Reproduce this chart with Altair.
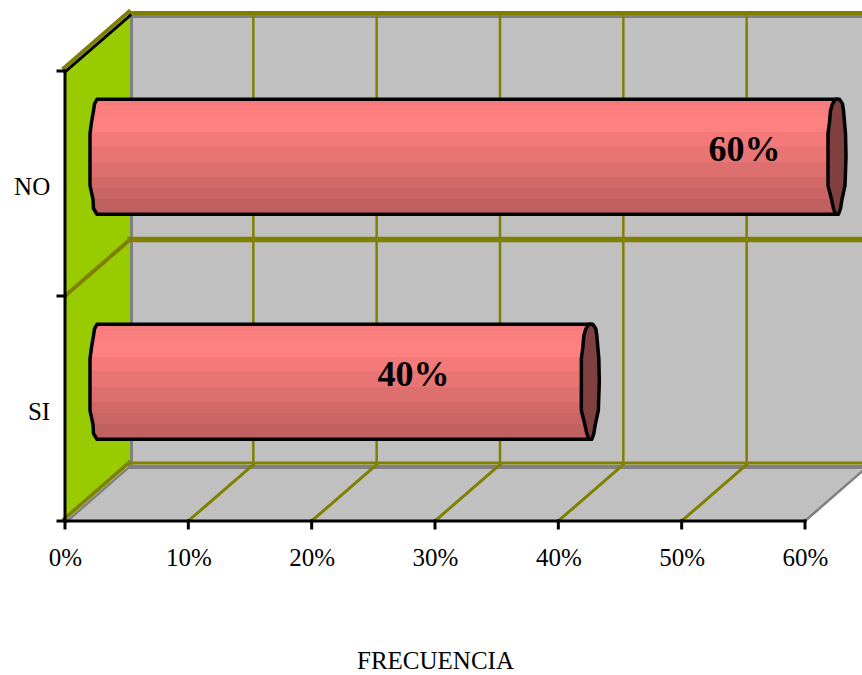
import altair as alt
import pandas as pd

# Survey results
categories = ["SI", "NO"]
percentages = [40, 60]
label_positions = [28.25, 55.1]
x_ticks = [0, 10, 20, 30, 40, 50, 60]
y_slots = [0, 1, 2]

# Plot geometry and the oblique projection used for the 3D box
PLOT_W, PLOT_H = 740, 450
X_MAX, Y_MAX = 60, 2
PX = X_MAX / PLOT_W
PY = Y_MAX / PLOT_H
DEPTH_X = 65 * PX
DEPTH_Y = 56.5 * PY

OLIVE = "#808000"
GREY = "#808080"
WALL = "#C0C0C0"
GREEN = "#99CC00"
FONT = "Liberation Serif"

x_scale = alt.Scale(domain=[0, X_MAX], nice=False, zero=False)
y_scale = alt.Scale(domain=[0, Y_MAX], nice=False, zero=False)
X = lambda f="x", **k: alt.X(f"{f}:Q", scale=x_scale, axis=None, title=None, **k)
Y = lambda f="y", **k: alt.Y(f"{f}:Q", scale=y_scale, axis=None, title=None, **k)


def project(x, y, depth):
    return x + depth * DEPTH_X, y + depth * DEPTH_Y


def segments(pairs, color, width, dx=0, dy=0):
    """One straight line per pair of (x, y, depth) points, nudged dx pixels right and dy pixels down."""
    rows = []
    for i, pair in enumerate(pairs):
        for j, (x, y, d) in enumerate(pair):
            px, py = project(x, y, d)
            rows.append({"seg": i, "o": j, "x": px + dx * PX, "y": py - dy * PY})
    return (
        alt.Chart(pd.DataFrame(rows))
        .mark_line(color=color, strokeWidth=width, strokeCap="square")
        .encode(x=X(), y=Y(), detail="seg:N", order="o:Q")
    )


# Walls and floor of the box
back_x, back_y0 = project(0, 0, 1)
back_x1, back_y1 = project(X_MAX, Y_MAX, 1)
back_df = pd.DataFrame([{"x": back_x, "x2": back_x1 + 2, "y": back_y0, "y2": back_y1}])
back_wall = alt.Chart(back_df).mark_rect(color=WALL).encode(
    x=X(), x2="x2:Q", y=Y(), y2="y2:Q"
)

floor_df = pd.DataFrame(
    [
        {"x": 0, "y": 0, "y2": 0},
        {"x": DEPTH_X, "y": 0, "y2": DEPTH_Y},
        {"x": X_MAX, "y": 0, "y2": DEPTH_Y},
        {"x": X_MAX + DEPTH_X, "y": DEPTH_Y, "y2": DEPTH_Y},
    ]
)
floor = alt.Chart(floor_df).mark_area(color=WALL, orient="vertical").encode(
    x=X(), y=Y(), y2="y2:Q"
)

wall_df = pd.DataFrame(
    [
        {"x": 0, "y": 0, "y2": Y_MAX},
        {"x": DEPTH_X, "y": DEPTH_Y, "y2": Y_MAX + DEPTH_Y},
    ]
)
left_wall = alt.Chart(wall_df).mark_area(color=GREEN, orient="vertical").encode(
    x=X(), y=Y(), y2="y2:Q"
)

# Shaded edges of the box
shadows = alt.layer(
    segments([[(0, Y_MAX, 1), (X_MAX, Y_MAX, 1)]], GREY, 3, dy=2),
    segments([[(0, 0, 1), (0, Y_MAX, 1)]], GREY, 3, dx=1.5),
    segments([[(0, 0, 1), (X_MAX, 0, 1)]], GREY, 4, dy=2.5),
    segments([[(0, 0, 0), (0, 0, 1)]], GREY, 2.5, dx=1, dy=1),
    segments([[(X_MAX, 0, 0), (X_MAX, 0, 1)]], GREY, 2.5),
)

# Gridlines on the back wall, the floor and the side wall
inner_ticks = [t for t in x_ticks if 0 < t < X_MAX]
grid = alt.layer(
    segments([[(t, 0, 1), (t, Y_MAX, 1)] for t in inner_ticks], OLIVE, 2.5),
    segments([[(t, 0, 0), (t, 0, 1)] for t in inner_ticks], OLIVE, 3),
    segments([[(0, Y_MAX, 1), (X_MAX, Y_MAX, 1)]], OLIVE, 4, dy=-1.5),
    segments([[(0, 1, 1), (X_MAX, 1, 1)]], OLIVE, 5.5),
    segments([[(0, 0, 1), (X_MAX, 0, 1)]], OLIVE, 3, dy=-1.5),
    segments([[(0, Y_MAX, 0), (0, Y_MAX, 1)]], OLIVE, 4, dx=-1, dy=-3),
    segments([[(0, 1, 0), (0, 1, 1)]], OLIVE, 4),
    segments([[(0, 0, 0), (0, 0, 1)]], OLIVE, 3.5, dx=-1, dy=-2),
    segments([[(0, Y_MAX, 0), (0, Y_MAX, 1)]], "black", 3, dy=1),
)

# Cylinder bars: an outline profile from the top edge (0) to the bottom edge (1),
# with sideways offsets in pixels
profile_t = [0, 0.04, 0.1, 0.2, 0.3, 0.5, 0.75, 0.87, 0.95, 1]
base_offset = [-0.5, -3, -4, -6, -7.5, -7.5, -7.5, -4.5, -4, -0.5]
cap_left = [-2, -5, -7, -8, -9.5, -9.5, -9.5, -6, -4, -2]
cap_right = [2, 5, 6, 7, 8, 8.5, 7.5, 4.5, 3, 1]

BAR_DEPTH = 0.5
BAR_HALF = 57.5 * PY
BAR_SHIFT = -1.5 * PY

band_edges = [0, 0.06, 0.16, 0.285, 0.41, 0.55, 0.68, 0.77, 0.87, 1]
band_colors = [
    "#F47C7C", "#FC7F7F", "#FF8080", "#F47A7A", "#E87474",
    "#DE6F6F", "#D26969", "#C96565", "#C06060",
]
bar_stops = []
for i, c in enumerate(band_colors):
    bar_stops.append(alt.GradientStop(offset=band_edges[i], color=c))
    bar_stops.append(alt.GradientStop(offset=band_edges[i + 1], color=c))
bar_fill = alt.Gradient(gradient="linear", stops=bar_stops, x1=0, x2=0, y1=0, y2=1)

body_rows, cap_rows = [], []
for slot, (cat, val) in enumerate(zip(categories, percentages)):
    x0, yc = project(0, slot + 0.5, BAR_DEPTH)
    x1, _ = project(val, slot + 0.5, BAR_DEPTH)
    yc += BAR_SHIFT
    for t, b, cl, cr in zip(profile_t, base_offset, cap_left, cap_right):
        y = yc + BAR_HALF - 2 * BAR_HALF * t
        body_rows.append({"cat": cat, "y": y, "x": x0 + b * PX, "x2": x1})
        cap_rows.append({"cat": cat, "y": y, "x": x1 + cl * PX, "x2": x1 + cr * PX})

bar_bodies = (
    alt.Chart(pd.DataFrame(body_rows))
    .mark_area(
        orient="horizontal", fill=bar_fill, stroke="black", strokeWidth=3.5,
        strokeJoin="round", opacity=1,
    )
    .encode(y=Y(), x=X(), x2="x2:Q", detail="cat:N")
)
bar_caps = (
    alt.Chart(pd.DataFrame(cap_rows))
    .mark_area(
        orient="horizontal", fill="#804040", stroke="black", strokeWidth=3.5,
        strokeJoin="round", opacity=1,
    )
    .encode(y=Y(), x=X(), x2="x2:Q", detail="cat:N")
)

# Value labels on the bars
value_df = pd.DataFrame(
    {
        "x": label_positions,
        "y": [s + 0.5 + DEPTH_Y / 2 + 5 * PY for s in range(len(categories))],
        "text": [f"{v}%" for v in percentages],
    }
)
value_labels = (
    alt.Chart(value_df)
    .mark_text(font=FONT, fontSize=36, fontWeight="bold", color="black", baseline="middle")
    .encode(x=X(), y=Y(), text="text:N")
)

# Category labels beside the side wall
cat_df = pd.DataFrame(
    {"x": [-1.2] * len(categories), "y": [s + 0.5 for s in range(len(categories))], "text": categories}
)
cat_labels = (
    alt.Chart(cat_df)
    .mark_text(font=FONT, fontSize=25, color="black", align="right", baseline="middle", dy=3)
    .encode(x=X(), y=Y(), text="text:N")
)

# Axis lines and tick marks, drawn last so they sit on top of the box
axis_lines = alt.layer(
    segments([[(0, 0, 0), (X_MAX, 0, 0)]], "black", 3),
    segments([[(0, 0, 0), (0, Y_MAX, 0)]], "black", 3),
    segments([[(t, 0, 0), (t, -7 * PY, 0)] for t in x_ticks], "black", 3),
    segments([[(0, s, 0), (-7 * PX, s, 0)] for s in y_slots], "black", 3),
)

# The percentage axis carries the labels and the title
axes = (
    alt.Chart(pd.DataFrame({"x": [0], "y": [0]}))
    .mark_point(opacity=0)
    .encode(
        x=alt.X(
            "x:Q",
            scale=x_scale,
            title="FRECUENCIA",
            axis=alt.Axis(
                values=x_ticks,
                labelExpr="datum.value + '%'",
                labelFont=FONT,
                labelFontSize=25,
                labelColor="black",
                labelPadding=24,
                labelOverlap=False,
                labelFlush=False,
                ticks=False,
                domain=False,
                grid=False,
                titleFont=FONT,
                titleFontSize=25,
                titleFontWeight="normal",
                titleColor="black",
                titlePadding=78,
                zindex=0,
            ),
        ),
        y=Y(),
    )
)

chart = (
    alt.layer(
        axes, back_wall, floor, left_wall, shadows, grid,
        bar_bodies, bar_caps, value_labels, cat_labels, axis_lines,
    )
    .resolve_axis(x="independent", y="independent")
    .properties(
        width=PLOT_W,
        height=PLOT_H,
        autosize=alt.AutoSizeParams(type="none"),
        padding={"left": 65, "top": 71, "right": 57, "bottom": 154},
        background="white",
    )
    .configure_view(stroke=None)
)

chart.save("out.html", embed_options={"renderer": "svg", "actions": False})
